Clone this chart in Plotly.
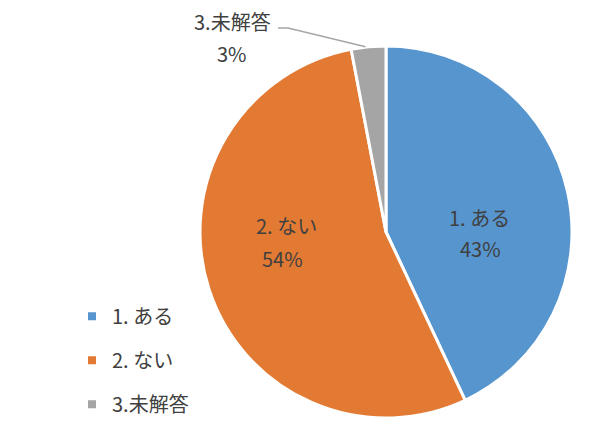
import math
import plotly.graph_objects as go

categories = ["1. ある", "2. ない", "3.未解答"]
values = [43, 54, 3]
colors = ["#5795CE", "#E27A33", "#A5A5A5"]

W, H = 600, 430
cx, cy, r = 386, 232, 186  # pixel geometry of the pie
font = "Noto Sans CJK JP"
txt = "#404040"
fs = 20

def px(x, y):
    return x / W, 1 - y / H

fig = go.Figure()
fig.add_trace(go.Pie(
    labels=categories, values=values, sort=False, direction="clockwise", rotation=0,
    marker=dict(colors=colors, line=dict(color="white", width=3)),
    textinfo="none",
    domain=dict(x=[(cx - r) / W, (cx + r) / W], y=[(H - cy - r) / H, (H - cy + r) / H]),
    showlegend=False, hoverinfo="label+percent",
))

for c, col in zip(categories, colors):
    fig.add_trace(go.Scatter(x=[None], y=[None], mode="markers", name=c, legendgroup=c,
                             marker=dict(symbol="square", size=8, color=col)))

total = sum(values)
pcts = [f"{round(v / total * 100)}%" for v in values]

# data labels (name line, percent line) for the two large slices
label_pos = [((479, 217), (480, 248)), ((286, 225), (282, 258))]
for i, ((nx, ny), (qx, qy)) in enumerate(label_pos):
    for (x, y), t in (((nx, ny), categories[i]), ((qx, qy), pcts[i])):
        ax_, ay_ = px(x, y)
        fig.add_annotation(x=ax_, y=ay_, xref="paper", yref="paper", xanchor="center",
                           yanchor="middle", showarrow=False, text=t,
                           font=dict(family=font, size=fs, color=txt))

# outside label for the small slice, with a leader line to its mid angle
start = sum(values[:2]) / total
mid = (start + 1.0) / 2 * 2 * math.pi
tx = cx + r * math.sin(mid) - 3
ty = cy - r * math.cos(mid)
ex, ey = 288, 28
lx = 278
p0, p1, p2 = px(tx, ty), px(ex, ey), px(lx, ey)
fig.add_shape(type="path", xref="paper", yref="paper",
              path=f"M {p0[0]},{p0[1]} L {p1[0]},{p1[1]} L {p2[0]},{p2[1]}",
              line=dict(color="#A6A6A6", width=1.5))
a = px(232, 22)
fig.add_annotation(x=a[0], y=a[1], xref="paper", yref="paper", xanchor="center",
                   yanchor="middle", showarrow=False, text=categories[2],
                   font=dict(family=font, size=fs, color=txt))
b = px(232, 54)
fig.add_annotation(x=b[0], y=b[1], xref="paper", yref="paper", xanchor="center",
                   yanchor="middle", showarrow=False, text=pcts[2],
                   font=dict(family=font, size=fs, color=txt))

fig.update_layout(
    width=W, height=H, margin=dict(l=0, r=0, t=0, b=0),
    paper_bgcolor="white", plot_bgcolor="white",
    xaxis=dict(visible=False), yaxis=dict(visible=False),
    legend=dict(x=0.12, y=0.31, xanchor="left", yanchor="top", tracegroupgap=15,
                font=dict(family=font, size=fs, color=txt), itemclick=False),
)
fig.write_html("out.html", config={"displayModeBar": False},
               post_script="document.body.style.margin='0';")
